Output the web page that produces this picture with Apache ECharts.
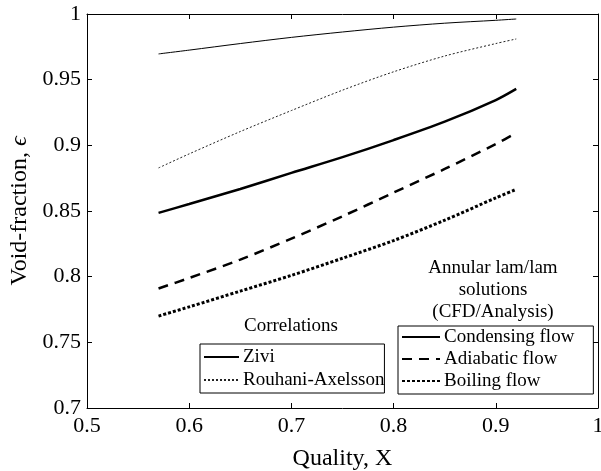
<!DOCTYPE html>
<html>
<head>
<meta charset="utf-8">
<script src="https://cdn.jsdelivr.net/npm/echarts@6/dist/echarts.min.js"></script>
<style>html,body{margin:0;padding:0;background:#fff}#c{width:601px;height:471px}</style>
</head>
<body>
<div id="c"></div>
<script>
// Data
const quality = [0.57, 0.60, 0.65, 0.70, 0.75, 0.80, 0.85, 0.90, 0.92];
const zivi = [0.9696, 0.9725, 0.9775, 0.9822, 0.9863, 0.9900, 0.9930, 0.9952, 0.9962];
const rouhani = [0.8828, 0.8935, 0.9105, 0.9265, 0.9420, 0.9560, 0.9680, 0.9775, 0.9810];
const condensing = [0.8486, 0.8553, 0.8668, 0.8790, 0.8910, 0.9040, 0.9180, 0.9345, 0.9430];
const adiabatic = [0.7910, 0.7990, 0.8130, 0.8290, 0.8460, 0.8640, 0.8820, 0.9010, 0.9094];
const boiling = [0.7700, 0.7770, 0.7890, 0.8010, 0.8140, 0.8275, 0.8430, 0.8600, 0.8665];
const seriesNames = ['Zivi', 'Rouhani-Axelsson', 'Condensing flow', 'Adiabatic flow', 'Boiling flow'];
const xTitle = 'Quality, X';
const yTitle = 'Void-fraction, ';

const pairs = a => quality.map((x, i) => [x, a[i]]);
const FONT = '"Liberation Serif", "DejaVu Serif", serif';

const chart = echarts.init(document.getElementById('c'), null, {renderer: 'canvas'});
const axisCommon = {
  axisLine: {show: true, lineStyle: {color: '#000', width: 1}},
  axisTick: {show: true, inside: true, length: 5, lineStyle: {color: '#000'}},
  splitLine: {show: false}
};
const lineSeries = (name, data, ls) => ({
  name, type: 'line', data: pairs(data), symbol: 'none', showSymbol: false,
  smooth: 0.3, color: '#000', itemStyle: {color: '#000'}, lineStyle: ls
});
chart.setOption({
  animation: false,
  backgroundColor: '#fff',
  grid: {left: 87, right: 3, top: 14, bottom: 63, containLabel: false, outerBoundsMode: 'none'},
  xAxis: [
    Object.assign({}, axisCommon, {
      type: 'value', min: 0.5, max: 1, interval: 0.1, position: 'bottom',
      axisLabel: {color: '#000', fontFamily: FONT, fontSize: 22, margin: 7},
      name: xTitle, nameLocation: 'middle', nameGap: 39,
      nameTextStyle: {color: '#000', fontFamily: FONT, fontSize: 24}
    }),
    Object.assign({}, axisCommon, {
      type: 'value', min: 0.5, max: 1, interval: 0.1, position: 'top',
      axisLabel: {show: false}
    })
  ],
  yAxis: [
    Object.assign({}, axisCommon, {
      type: 'value', min: 0.7, max: 1, interval: 0.05, position: 'left',
      axisLabel: {color: '#000', fontFamily: FONT, fontSize: 22, margin: 6},
      name: '{t|' + yTitle + '}{e|\u03F5}', nameLocation: 'middle', nameGap: 48,
      nameTextStyle: {color: '#000', fontFamily: FONT, fontSize: 24,
        rich: {t: {fontFamily: FONT, fontSize: 24, color: '#000'}, e: {fontFamily: FONT, fontSize: 24, fontStyle: 'italic', color: '#000'}}}
    }),
    Object.assign({}, axisCommon, {
      type: 'value', min: 0.7, max: 1, interval: 0.05, position: 'right',
      axisLabel: {show: false}
    })
  ],
  legend: [
    {
      data: [seriesNames[0], seriesNames[1]],
      orient: 'vertical', left: 200, top: 344,
      itemWidth: 35, itemHeight: 14, itemGap: 3,
      padding: [3, 0, 3, 3],
      borderColor: '#000', borderWidth: 1, borderRadius: 0,
      itemStyle: {opacity: 0},
      textStyle: {color: '#000', fontFamily: FONT, fontSize: 19, lineHeight: 20, padding: [0, 0, 0, -1]},
      selectedMode: false
    },
    {
      data: [seriesNames[2], seriesNames[3], seriesNames[4]],
      orient: 'vertical', left: 398, top: 326,
      itemWidth: 38, itemHeight: 14, itemGap: 2,
      padding: [1, 19, 3, 3],
      borderColor: '#000', borderWidth: 1, borderRadius: 0,
      itemStyle: {opacity: 0},
      textStyle: {color: '#000', fontFamily: FONT, fontSize: 19, lineHeight: 20, padding: [0, 0, 0, -1]},
      selectedMode: false
    }
  ],
  graphic: [
    {type: 'text', style: {text: 'Correlations', x: 291, y: 326, align: 'center', verticalAlign: 'middle', fill: '#000', font: '19px ' + FONT}},
    {type: 'text', style: {text: 'Annular lam/lam\nsolutions\n(CFD/Analysis)', x: 493, y: 290, align: 'center', verticalAlign: 'middle', lineHeight: 21.7, fill: '#000', font: '19px ' + FONT}}
  ],
  series: [
    lineSeries(seriesNames[0], zivi, {color: '#000', width: 1}),
    lineSeries(seriesNames[1], rouhani, {color: '#222', width: 1, type: [2, 2]}),
    lineSeries(seriesNames[2], condensing, {color: '#000', width: 2.5}),
    lineSeries(seriesNames[3], adiabatic, {color: '#000', width: 2.5, type: [10, 7]}),
    lineSeries(seriesNames[4], boiling, {color: '#000', width: 3, type: [3, 2]})
  ]
});
</script>
</body>
</html>
